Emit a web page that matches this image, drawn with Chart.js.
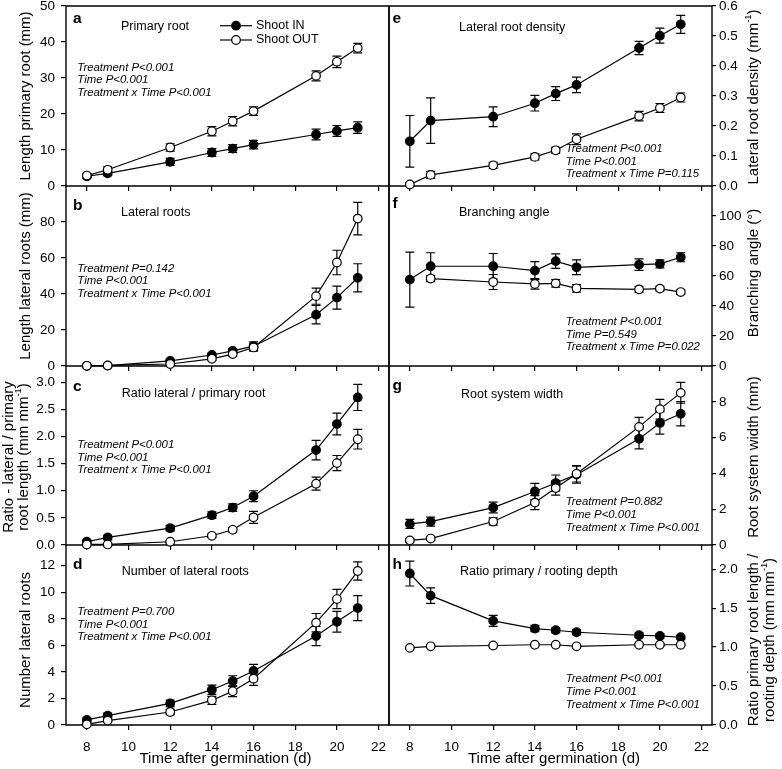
<!DOCTYPE html>
<html><head><meta charset="utf-8">
<script src="https://cdn.jsdelivr.net/npm/chart.js@4.4.1/dist/chart.umd.min.js"></script>
<style>
html,body{margin:0;padding:0;background:#fff;}
#wrap{position:relative;width:782px;height:769px;overflow:hidden;background:#fff;}
#wrap canvas{position:absolute;left:0;top:0;}
</style></head><body><div id="wrap"></div>
<script>
// ---------- data ----------
const days = [8, 9, 12, 14, 15, 16, 19, 20, 21];
const xTicks = [8, 10, 12, 14, 16, 18, 20, 22];
const seriesNames = ['Shoot IN', 'Shoot OUT'];
const xTitle = 'Time after germination (d)';

// a: length primary root (mm)
const primaryIn     = [2.7, 3.5, 6.7, 9.3, 10.4, 11.5, 14.3, 15.3, 16.2];
const primaryInErr  = [0.5, 0.6, 1.0, 1.1, 1.1, 1.2, 1.5, 1.5, 1.6];
const primaryOut    = [2.9, 4.5, 10.7, 15.2, 18.0, 20.8, 30.6, 34.5, 38.3];
const primaryOutErr = [0.5, 0.8, 1.0, 1.3, 1.3, 1.2, 1.4, 1.6, 1.3];
const primaryTicks  = [0, 10, 20, 30, 40, 50];

// b: length lateral roots (mm)
const lateralIn     = [0.1, 0.2, 2.9, 6.1, 8.4, 11.0, 28.5, 38.0, 49.0];
const lateralInErr  = [0.1, 0.1, 0.5, 0.9, 1.2, 2.4, 5.1, 6.4, 7.8];
const lateralOut    = [0.1, 0.3, 1.1, 4.0, 6.6, 10.3, 38.8, 57.5, 81.9];
const lateralOutErr = [0.1, 0.1, 0.3, 0.8, 1.1, 2.0, 4.5, 6.8, 9.0];
const lateralTicks  = [0, 20, 40, 60, 80];

// c: ratio lateral / primary root length
const ratioLPIn     = [0.06, 0.14, 0.31, 0.55, 0.69, 0.90, 1.75, 2.23, 2.72];
const ratioLPInErr  = [0.03, 0.04, 0.05, 0.06, 0.07, 0.10, 0.18, 0.20, 0.24];
const ratioLPOut    = [0.01, 0.01, 0.06, 0.17, 0.28, 0.51, 1.13, 1.51, 1.95];
const ratioLPOutErr = [0.01, 0.01, 0.02, 0.03, 0.04, 0.11, 0.12, 0.14, 0.18];
const ratioLPTicks  = [0, 0.5, 1.0, 1.5, 2.0, 2.5, 3.0];

// d: number of lateral roots
const numberIn      = [0.38, 0.70, 1.63, 2.66, 3.31, 4.07, 6.70, 7.78, 8.81];
const numberInErr   = [0.15, 0.20, 0.25, 0.35, 0.40, 0.50, 0.72, 0.78, 0.94];
const numberOut     = [0.05, 0.33, 0.98, 1.86, 2.54, 3.49, 7.71, 9.49, 11.6];
const numberOutErr  = [0.05, 0.10, 0.20, 0.30, 0.40, 0.50, 0.69, 0.72, 0.69];
const numberTicks   = [0, 2, 4, 6, 8, 10, 12];

// e: lateral root density (mm-1)
const densityIn     = [0.149, 0.218, 0.231, 0.276, 0.308, 0.337, 0.460, 0.501, 0.539];
const densityInErr  = [0.086, 0.076, 0.033, 0.026, 0.023, 0.026, 0.022, 0.025, 0.030];
const densityOut    = [0.005, 0.037, 0.069, 0.097, 0.119, 0.156, 0.233, 0.260, 0.295];
const densityOutErr = [0.005, 0.012, 0.010, 0.010, 0.010, 0.018, 0.016, 0.015, 0.015];
const densityTicks  = [0, 0.1, 0.2, 0.3, 0.4, 0.5, 0.6];

// f: branching angle (deg)
const angleIn       = [57.6, 66.5, 66.5, 63.6, 69.9, 65.8, 67.6, 68.1, 72.5];
const angleInErr    = [18.3, 9.0, 8.5, 6.0, 4.8, 4.9, 3.8, 2.7, 3.0];
const angleOut      = [null, 58.3, 56.0, 54.7, 55.1, 51.8, 51.1, 51.6, 49.3];
const angleOutErr   = [null, 2.0, 5.0, 3.5, 2.5, 2.5, 2.0, 1.5, 1.5];
const angleTicks    = [0, 20, 40, 60, 80, 100];

// g: root system width (mm)
const widthIn       = [1.18, 1.31, 2.09, 2.99, 3.46, 3.93, 5.93, 6.82, 7.33];
const widthInErr    = [0.25, 0.25, 0.30, 0.45, 0.45, 0.48, 0.56, 0.63, 0.68];
const widthOut      = [0.26, 0.36, 1.31, 2.37, 3.18, 3.98, 6.60, 7.59, 8.50];
const widthOutErr   = [0.10, 0.10, 0.20, 0.39, 0.39, 0.46, 0.53, 0.55, 0.58];
const widthTicks    = [0, 2, 4, 6, 8];

// h: ratio primary root length / rooting depth
const depthIn       = [1.944, 1.66, 1.336, 1.238, 1.216, 1.19, 1.152, 1.143, 1.126];
const depthInErr    = [0.16, 0.10, 0.07, 0.04, 0.03, 0.03, 0.03, 0.03, 0.02];
const depthOut      = [0.99, 1.01, 1.02, 1.03, 1.03, 1.01, 1.03, 1.03, 1.03];
const depthOutErr   = [0.01, 0.01, 0.01, 0.01, 0.01, 0.01, 0.01, 0.01, 0.01];
const depthTicks    = [0, 0.5, 1.0, 1.5, 2.0];

const statsA = ['Treatment P<0.001', 'Time P<0.001', 'Treatment x Time P<0.001'];
const statsB = ['Treatment P=0.142', 'Time P<0.001', 'Treatment x Time P<0.001'];
const statsC = ['Treatment P<0.001', 'Time P<0.001', 'Treatment x Time P<0.001'];
const statsD = ['Treatment P=0.700', 'Time P<0.001', 'Treatment x Time P<0.001'];
const statsE = ['Treatment P<0.001', 'Time P<0.001', 'Treatment x Time P=0.115'];
const statsF = ['Treatment P<0.001', 'Time P=0.549', 'Treatment x Time P=0.022'];
const statsG = ['Treatment P=0.882', 'Time P<0.001', 'Treatment x Time P<0.001'];
const statsH = ['Treatment P<0.001', 'Time P<0.001', 'Treatment x Time P<0.001'];

// ---------- layout / style ----------
const FONT = '"Liberation Sans", Arial, Helvetica, sans-serif';
const W = 782, H = 769;
const COL = { L: { left: 66, right: 389 }, R: { left: 389, right: 712 } };
const ROW = [[6, 186], [186, 366], [366, 545], [545, 725]];

const panels = [
  { col:'L', row:0, yMax:50, ticks:primaryTicks, dec:0, inV:primaryIn, inE:primaryInErr, outV:primaryOut, outE:primaryOutErr,
    letter:'a', letterPos:[73,23.3], title:'Primary root', titlePos:[121,26.2], stats:statsA, statsPos:[77.3,67.4],
    yTitle:{y:96, lines:[{x:26, parts:[['Length primary root (mm)']]}]}, legend:true, topBorder:true },
  { col:'L', row:1, yMax:100, ticks:lateralTicks, dec:0, inV:lateralIn, inE:lateralInErr, outV:lateralOut, outE:lateralOutErr,
    letter:'b', letterPos:[73,210], title:'Lateral roots', titlePos:[121,212.2], stats:statsB, statsPos:[77.3,268.5],
    yTitle:{y:276, lines:[{x:26, parts:[['Length lateral roots (mm)']]}]} },
  { col:'L', row:2, yMax:3.3, ticks:ratioLPTicks, dec:1, inV:ratioLPIn, inE:ratioLPInErr, outV:ratioLPOut, outE:ratioLPOutErr,
    letter:'c', letterPos:[73,390.7], title:'Ratio lateral / primary root', titlePos:[121.7,393.8], stats:statsC, statsPos:[77.3,444.8],
    yTitle:{y:457, lines:[{x:9, parts:[['Ratio - lateral / primary']]}, {x:24, parts:[['root length (mm mm'],['-1',1],[')']]}]} },
  { col:'L', row:3, yMax:13.56, ticks:numberTicks, dec:0, inV:numberIn, inE:numberInErr, outV:numberOut, outE:numberOutErr,
    letter:'d', letterPos:[73,569], title:'Number of lateral roots', titlePos:[121.7,572], stats:statsD, statsPos:[77.3,611.8],
    yTitle:{y:640, lines:[{x:26, parts:[['Number lateral roots']]}]}, xLabels:true, xTitleX:225.5 },
  { col:'R', row:0, yMax:0.6, ticks:densityTicks, dec:1, inV:densityIn, inE:densityInErr, outV:densityOut, outE:densityOutErr,
    letter:'e', letterPos:[392.5,22.8], title:'Lateral root density', titlePos:[459,27.8], stats:statsE, statsPos:[565.7,149],
    yTitle:{y:97, lines:[{x:754, parts:[['Lateral root density (mm'],['-1',1],[')']]}]}, topBorder:true },
  { col:'R', row:1, yMax:120, ticks:angleTicks, dec:0, inV:angleIn, inE:angleInErr, outV:angleOut, outE:angleOutErr,
    letter:'f', letterPos:[392.5,207.7], title:'Branching angle', titlePos:[459,212.8], stats:statsF, statsPos:[565.7,321.8],
    yTitle:{y:273, lines:[{x:754, parts:[['Branching angle (°)']]}]} },
  { col:'R', row:2, yMax:10, ticks:widthTicks, dec:0, inV:widthIn, inE:widthInErr, outV:widthOut, outE:widthOutErr,
    letter:'g', letterPos:[392.5,390], title:'Root system width', titlePos:[461,394.7], stats:statsG, statsPos:[565.7,502.3],
    yTitle:{y:457, lines:[{x:754, parts:[['Root system width (mm)']]}]} },
  { col:'R', row:3, yMax:2.31, ticks:depthTicks, dec:1, inV:depthIn, inE:depthInErr, outV:depthOut, outE:depthOutErr,
    letter:'h', letterPos:[392.5,569], title:'Ratio primary / rooting depth', titlePos:[460,572], stats:statsH, statsPos:[565.7,679.2],
    yTitle:{y:640, lines:[{x:754, parts:[['Ratio primary root length /']]}, {x:770, parts:[['rooting depth (mm mm'],['-1',1],[')']]}]}, xLabels:true, xTitleX:554 }
];

function drawRotated(ctx, parts, cx, cy, size) {
  ctx.save();
  ctx.translate(cx, cy);
  ctx.rotate(-Math.PI / 2);
  ctx.textBaseline = 'middle';
  ctx.textAlign = 'left';
  let w = 0;
  parts.forEach(p => { ctx.font = (p[1] ? size * 0.62 : size) + 'px ' + FONT; w += ctx.measureText(p[0]).width; });
  let x = -w / 2;
  parts.forEach(p => {
    ctx.font = (p[1] ? size * 0.62 : size) + 'px ' + FONT;
    ctx.fillText(p[0], x, p[1] ? -size * 0.36 : 0);
    x += ctx.measureText(p[0]).width;
  });
  ctx.restore();
}

function drawMarker(ctx, x, y, filled) {
  ctx.beginPath();
  ctx.arc(x, y, 4.3, 0, Math.PI * 2);
  ctx.fillStyle = filled ? '#000' : '#fff';
  ctx.fill();
  ctx.lineWidth = 1.2;
  ctx.strokeStyle = '#000';
  ctx.stroke();
}

const decor = {
  id: 'decor',
  beforeDatasetsDraw(chart, args, opts) {
    const p = opts.panel, ctx = chart.ctx, a = chart.chartArea;
    const xs = chart.scales.x, ys = chart.scales.y;
    ctx.save();
    ctx.strokeStyle = '#000';
    ctx.lineWidth = 1.4;
    ctx.beginPath();
    ctx.moveTo(a.left, a.top); ctx.lineTo(a.left, a.bottom);
    ctx.lineTo(a.right, a.bottom); ctx.lineTo(a.right, a.top);
    if (p.topBorder) { ctx.moveTo(a.left, a.top); ctx.lineTo(a.right, a.top); }
    ctx.stroke();
    // error bars
    ctx.lineWidth = 1.2;
    [[p.inV, p.inE], [p.outV, p.outE]].forEach(([v, e]) => {
      days.forEach((d, i) => {
        if (v[i] == null || !e[i]) return;
        const x = xs.getPixelForValue(d);
        const y1 = ys.getPixelForValue(v[i] - e[i]);
        const y2 = ys.getPixelForValue(v[i] + e[i]);
        ctx.beginPath();
        ctx.moveTo(x, y1); ctx.lineTo(x, y2);
        ctx.moveTo(x - 4.5, y1); ctx.lineTo(x + 4.5, y1);
        ctx.moveTo(x - 4.5, y2); ctx.lineTo(x + 4.5, y2);
        ctx.stroke();
      });
    });
    ctx.restore();
  },
  afterDraw(chart, args, opts) {
    const p = opts.panel, ctx = chart.ctx;
    ctx.save();
    ctx.fillStyle = '#000';
    ctx.textAlign = 'left';
    ctx.textBaseline = 'alphabetic';
    ctx.font = 'bold 15.5px ' + FONT;
    ctx.fillText(p.letter, p.letterPos[0], p.letterPos[1]);
    ctx.textBaseline = 'middle';
    ctx.font = '12.5px ' + FONT;
    ctx.fillText(p.title, p.titlePos[0], p.titlePos[1]);
    ctx.font = 'italic 11.4px ' + FONT;
    p.stats.forEach((s, i) => ctx.fillText(s, p.statsPos[0], p.statsPos[1] + i * 12.6));
    p.yTitle.lines.forEach(l => drawRotated(ctx, l.parts, l.x, p.yTitle.y, 15));
    if (p.xLabels) {
      ctx.font = '15px ' + FONT;
      ctx.textAlign = 'center';
      ctx.fillText(xTitle, p.xTitleX, 759);
    }
    if (p.legend) {
      const rows = [[25.7, true], [40, false]];
      rows.forEach(([y, filled], i) => {
        ctx.strokeStyle = '#000';
        ctx.lineWidth = 1.2;
        ctx.beginPath(); ctx.moveTo(220, y); ctx.lineTo(252, y); ctx.stroke();
        drawMarker(ctx, 236, y, filled);
        ctx.fillStyle = '#000';
        ctx.font = '12.5px ' + FONT;
        ctx.textAlign = 'left';
        ctx.textBaseline = 'middle';
        ctx.fillText(seriesNames[i], 256, y);
      });
    }
    ctx.restore();
  }
};

const wrap = document.getElementById('wrap');
const YW = 40, XH = 40;
panels.forEach((p, k) => {
  const cv = document.createElement('canvas');
  cv.width = W; cv.height = H;
  cv.style.width = W + 'px'; cv.style.height = H + 'px';
  wrap.appendChild(cv);
  const c = COL[p.col];
  const [top, bottom] = ROW[p.row];
  const isL = p.col === 'L';
  const pad = {
    left: isL ? c.left - YW : c.left,
    right: isL ? W - c.right : W - c.right - YW,
    top: top,
    bottom: H - bottom - XH
  };
  const pts = v => days.map((d, i) => ({ x: d, y: v[i] }));
  new Chart(cv, {
    type: 'line',
    data: {
      datasets: [
        { label: seriesNames[1], data: pts(p.outV), borderColor: '#000', borderWidth: 1.2,
          pointRadius: 4.3, pointBackgroundColor: '#fff', pointBorderColor: '#000', pointBorderWidth: 1.2,
          tension: 0, clip: false, spanGaps: false },
        { label: seriesNames[0], data: pts(p.inV), borderColor: '#000', borderWidth: 1.2,
          pointRadius: 4.3, pointBackgroundColor: '#000', pointBorderColor: '#000', pointBorderWidth: 1.2,
          tension: 0, clip: false, spanGaps: false }
      ]
    },
    options: {
      responsive: false, maintainAspectRatio: false, animation: false, events: [],
      layout: { padding: pad },
      plugins: { legend: { display: false }, tooltip: { enabled: false }, decor: { panel: p } },
      scales: {
        x: {
          type: 'linear', position: 'bottom', min: 7, max: 22.5, bounds: 'data',
          afterBuildTicks: s => { s.ticks = xTicks.map(v => ({ value: v })); },
          afterFit: s => { s.height = XH; s.paddingLeft = 0; s.paddingRight = 0; },
          grid: { display: true, drawOnChartArea: false, drawTicks: true, tickLength: 5, color: '#000', lineWidth: 1.2 },
          border: { display: false },
          ticks: { display: !!p.xLabels, color: '#000', font: { family: FONT, size: 13.5 }, padding: 9, maxRotation: 0, autoSkip: false }
        },
        y: {
          type: 'linear', position: isL ? 'left' : 'right', min: 0, max: p.yMax, bounds: 'data',
          afterBuildTicks: s => { s.ticks = p.ticks.map(v => ({ value: v })); },
          afterFit: s => { s.width = YW; s.paddingTop = 0; s.paddingBottom = 0; },
          grid: { display: true, drawOnChartArea: false, drawTicks: true, tickLength: isL ? 5 : 4, color: '#000', lineWidth: 1.2 },
          border: { display: false },
          ticks: { color: '#000', font: { family: FONT, size: 13.5 }, padding: isL ? 6 : 3, autoSkip: false,
                   callback: v => Number(v).toFixed(p.dec) }
        }
      }
    },
    plugins: [decor]
  });
});
</script></body></html>
